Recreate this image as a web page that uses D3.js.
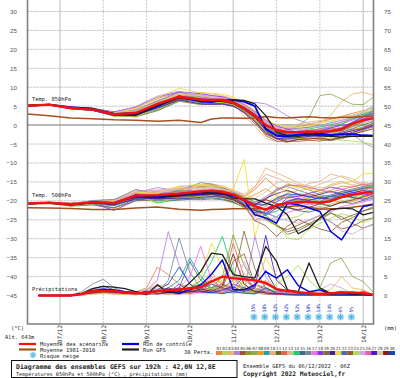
<!DOCTYPE html>
<html>
<head>
<meta charset="utf-8">
<script src="https://cdn.jsdelivr.net/npm/d3@7"></script>
<style>
  body { margin: 0; background: white; overflow: hidden; }
  .mono { font-family: "DejaVu Sans Mono", monospace; fill: #222; }
  .yaxis text { font-family: "Liberation Sans", sans-serif; font-size: 6.2px; fill: #555; }
  .xaxis text { font-family: "DejaVu Sans Mono", monospace; font-size: 6px; fill: #222; }
</style>
</head>
<body>
<div id="chart"></div>
<script>
// 12h steps up to 96h, then 6h steps for temperature members
var hours_temp = [0,12,24,36,48,60,72,84,96,102,108,114,120,126,132,138,144,150,156,162,168,174,180,186,192];
var hours_prec = [6,12,18,24,30,36,42,48,54,60,66,72,78,84,90,96,102,108,114,120,126,132,138,144,150,156,162,168,174,180,186,192];

var day_hours = [18,42,66,90,114,138,162,186];
var day_labels = ["07/12","08/12","09/12","10/12","11/12","12/12","13/12","14/12"];
var day_solid = [true,false,false,true,true,false,false,true];

var left_ticks = [30,25,20,15,10,5,0,-5,-10,-15,-20,-25,-30,-35,-40,-45];
var right_ticks = [75,70,65,60,55,50,45,40,35,30,25,20,15,10,5,0];
var grid_values = [30,25,20,15,10,5,-5,-10,-15,-20,-25,-30,-35,-40];

var snow_hours = [126,132,138,144,150,156,162,168,174,180];
var snow_pct = ["35%","38%","42%","42%","52%","58%","14%","14%","6%","5%"];

var pert_labels = ["01","02","03","04","05","06","07","08","09","10","11","12","13","14","15","16","17","18","19","20","21","22","23","24","25","26","27","28","29","30"];
var pert_colors = ["#e8843c","#a8d860","#f0b468","#b080e0","#a05828","#88a028","#90a850","#f09a18","#20a0a8","#f0a888","#6a6a24","#f06048","#d0c090","#10d068","#406888","#708898","#ec70e8","#8a30f0","#807038","#482098","#f0dc38","#5068b8","#985830","#a8e448","#d0a8e8","#e860a8","#4818c8","#d8c8a0","#882010","#1048c8"];

var mean_850 = [5.1,5.4,4.5,4.1,2.9,3.2,5.6,7.5,6.7, 6.6,6.7,6.0,4.5,2.5,0,-1.3,-1.9, -1.9,-1.7,-1.8,-1.6,-1.1,.3,1.3,1.9];
var clim_850 = [2.9,2.5,1.9,1.7,1.4,1.3,1.0,1.3,.7, 1.6,1.9,1.9,1.8,1.9,2.3,2,1.9, 2.1,2.2,2,1.9,2.1,2.1,2.3,2.4];
var ctrl_850 = [5.1,5.4,4.7,4.3,3,2.8,5,7.6,6.2, 6.1,6.6,6.6,6.2,5.0,-1,-2.8,-3, -2.5,-2.4,-2.3,-2.6,-2.4,-2.4,-2.7,-2.8];
var gfs_850 = [5.2,5.4,4.6,4.4,2.9,2.6,5.2,7.3,6.5, 6.3,6.4,6.7,6.5,5.6,2.5,-1.9,-2.8, -3,-2.5,-2.8,-3,-3.2,-3,-3,-3];

var mean_500 = [-20.7,-20.5,-20.9,-20.4,-20.6,-18.6,-18.5,-18.1,-17.5, -17.3,-17.6,-18.3,-19.8,-21.4,-22.3,-21.1,-20.6, -20.3,-20.3,-20.4,-20.1,-19,-18.4,-17.9,-17.7];
var clim_500 = [-21.8,-21.9,-22,-22.3,-22.3,-21.9,-21.6,-22.2,-22.5, -22.3,-22.2,-22.1,-22.1,-22.1,-22.1,-21.9,-21.5, -21.3,-21.6,-22.2,-22.1,-22,-21.7,-21.3,-20.8];
var ctrl_500 = [-20.8,-20.5,-21,-20.3,-20.5,-18.9,-19,-18.4,-18.2, -18,-18.2,-18.6,-19.9,-23.7,-24.5,-25.9,-20.7, -21,-21.9,-22.8,-28.1,-30.3,-25.9,-21.5,-21];
var gfs_500 = [-20.7,-20.6,-21.1,-20.5,-20.8,-18.4,-19.2,-18.6,-17.9, -17.6,-17.9,-19.3,-19.5,-19.5,-20.6,-21.5,-23.7, -28.7,-27.2,-24.5,-22.3,-21.9,-22.1,-23.7,-23];

var mean_prec = [0,0,0,0,.4,1.2,1.2,1.2, .8,.6,.6,1.2,1.4,1.6,1.9,2.2, 3.7,5,4.6,4.3,4,3.3,1.7,1.2, .9,.6,.4,.6,.8,.8,.6,.2];
var ctrl_prec = [0,0,0,0,.4,1.2,1.6,1.5, 1,.7,.5,1.3,1,.6,1.5,2.8, 5.6,9.4,1.5,1.5,2.8,6.3,4.6,6.8, 2.6,1,1.5,.4,.6,.4,.3,.1];
var gfs_prec = [0,0,0,0,.5,1.8,2.4,2.2, 1.8,1,.3,2.8,.8,1,3.4,6.3, 11.2,10.8,5.5,5,4.6,13,9,1.5, 1,8.6,2,.5,.6,.4,.3,.1];

var members_850 = [
  [5.1,5.5,4.6,4.2,3.4,4.6,7.0,8.6,7.9, 7.4,7.2,6.4,5.0,3.2,.8,-1,-.9, -.4,.2,.9,1.5,2.3,3.1,3.8,4.5],
  [5.2,5.4,4.4,4.1,2.8,3.6,6.1,7.9,7.1, 6.9,7.3,6.3,4.7,2.8,-1,-3.2,-3.9, -3.4,-3,-2.8,-2.1,-1.2,-.3,.6,1.2],
  [5.0,5.5,4.8,4.3,3.2,3.2,5.2,7.4,8.6, 8.2,7.8,6.9,5.6,3.4,1.1,-.5,-1.4, -1,-.4,.4,2.5,6.2,8.2,8.7,7.8],
  [5.1,5.3,4.3,4.0,3.0,4.2,6.4,8.2,6.9, 6.8,6.6,6.1,6.2,6.0,5.6,4.2,2.4, 1.3,.5,-.2,-.8,-1.5,-2.5,-4.5,-6],
  [5.1,5.4,4.5,3.9,2.4,2.3,4.2,6.6,5.7, 5.6,5.8,5.2,3.2,.4,-2.4,-3.7,-3.2, -2.8,-2.4,-2.6,-3,-2.3,-1.4,-.5,.3],
  [5.2,5.5,4.7,4.4,3.1,3.7,5.9,7.8,7.4, 7.1,6.9,6.5,5.1,3.4,.2,-1.9,-2.6, -2.1,-1.7,-.9,-.4,.3,1.4,2.6,3.3],
  [5.1,5.4,4.4,4.2,2.7,2.9,4.7,6.9,6.3, 6.2,6.3,5.4,3.9,1.8,-.8,-2.1,-1.4, -.2,2,7.8,8.2,6.9,5.5,5.4,7.5],
  [5.0,5.3,4.5,4.0,2.9,3.4,5.7,7.6,6.5, 6.3,6.2,5.7,4.1,2.1,-1.5,-2.7,-3.4, -3.9,-3.3,-3.5,-2.9,-2.5,-1.2,-.7,.4],
  [5.1,5.4,4.6,4.1,2.5,2.8,5.0,7.2,6.2, 6.1,6.4,5.8,4.4,2.6,-.4,-1.1,-1.6, -1.9,-1.3,-1.1,-.9,.2,1.7,2.4,3.9],
  [5.2,5.5,4.4,4.3,3.3,4.0,6.6,8.1,7.6, 7.2,7,5.8,2.4,-.3,-3.5,-4.4,-3.6, -3.1,-2.7,-2.9,-2.2,-1.6,-.8,.5,1.4],
  [5.1,5.4,4.5,4.2,2.8,3,4.9,7.1,6.6, 6.4,6.1,5.5,4.3,2.4,-.2,-2.3,-2.7, -2.9,-2.5,-2.1,-1.9,-1.5,-.4,.9,2.1],
  [5.2,5.3,4.8,4.1,2.6,2.5,4.4,6.7,6, 5.8,5.9,5.3,3.8,1.6,-1.8,-3,-2.4, -1.8,-2.2,-1.4,-1.1,-.6,.8,1.6,2.8],
  [5,5.4,4.3,3.8,3,3.5,5.8,7.9,8.1, 7.7,7.5,6.2,4.9,3,.5,-.6,-.2, .3,.8,1.2,1.7,2.2,2.7,3.3,5],
  [5.1,5.5,4.6,4.3,3.1,3.1,3.9,6.4,6.8, 6.5,6.5,5.9,4.4,2.2,-.7,-1.8,-2.2, -1.6,-1,-.5,.1,.7,1.9,3,4.1],
  [5.1,5.4,4.5,4,2.7,2.6,4.6,6.8,5.9, 5.7,5.7,5.1,4,2,-1.2,-2.6,-3.1, -3.4,-2.9,-2.2,-2.5,-1.9,-1,.1,.9],
  [5.2,5.4,4.6,4.2,3.3,3.9,6.3,8.7,7.5, 7,6.8,6.2,4.6,2.5,-.3,-2,-1.2, -.8,-.6,-.1,.6,1.2,2.1,2.9,3.6],
  [5.1,5.5,4.7,4.1,2.9,3.3,5.5,7.5,7.2, 6.7,6.7,6,4.8,3.1,.6,-.9,-.7, -1.3,-1.6,-1.2,-.3,.9,1.3,2,3],
  [5,5.3,4.4,4.4,3.5,4.8,7.4,8.8,8.3, 7.8,7.5,6.7,5.4,3.7,1.3,-.2,-1.1, -2,-1.9,-1.5,-.7,-.1,.4,1.1,1.6],
  [5.1,5.4,4.5,4,2.4,2.2,3.8,6.3,5.4, 5.5,5.6,5,3.5,.9,-2.8,-4.2,-4.5, -3.7,-3.4,-3.8,-4.1,-3.6,-2.6,-1.3,-.4],
  [5.2,5.4,4.6,4.2,3,3.4,5.3,7,6.4, 6.2,6.3,5.7,4.2,2.3,-.9,-2.4,-2.9, -2.6,-2.8,-3,-2.7,-2.2,-1.5,-.9,0],
  [5.1,5.5,4.7,4.4,3.2,4.4,7.3,9.7,8.5, 8.4,8.2,7.4,5.9,3.9,1.5,.1,-.4, -.6,-.2,.5,1.1,1.9,2.4,3.2,4.2],
  [5.1,5.4,4.5,4.1,2.6,3,5.1,7.4,6.6, 6.4,6.5,6.3,4.9,2.7,-1.3,-2.9,-3.5, -2.7,-2.3,-2.5,-1.8,-1.3,.1,1.5,2.6],
  [5,5.3,4.4,3.9,2.8,3.1,4.8,7,6.7, 6.6,6.4,5.6,3.7,1.2,-2.2,-3.4,-4.2, -4.3,-4,-4.2,-3.7,-3.2,-2.2,-.8,.7],
  [5.2,5.4,4.6,4.3,2.3,2.4,4.3,6.5,5.8, 5.9,6,5.4,3.6,1.4,-1.7,-3.3,-3.6, -3.5,-3.2,-3.3,-3.6,-4,-4.2,-4.6,-5.2],
  [5.1,5.5,4.5,4.2,3.2,4.9,7.7,9,7.8, 7.5,7.1,6.6,5.3,3.5,.9,-.8,-1.5, -1.2,-.8,-.2,.3,1.3,2.2,3.4,4.9],
  [5.1,5.4,4.7,4,2.9,3.3,5.4,7.7,7, 6.8,6.8,6.1,4.5,2.4,-.6,-1.6,-2, -2.3,-1.9,-1.6,-1.3,-.9,.6,1.8,2.5],
  [5.2,5.3,4.3,3.9,2.5,2.7,4.5,6.6,5.6, 5.5,5.5,5,3.4,1,-2,-3.5,-3.7, -3.3,-3,-2.7,-3.1,-2.8,-1.9,-1.1,-.1],
  [5,5.5,4.6,4.3,3.3,3.8,6,8.3,7.7, 7.3,7.1,6.4,5,3,.3,-1.4,-.5, 0,.4,.7,1,1.6,2.5,3.6,5.4],
  [5.1,5.4,4.5,4.1,2.7,2.9,4.9,7.2,6.3, 6.2,6.2,5.6,4.2,2,-1.4,-3.6,-4.4, -3.8,-3.7,-3.4,-3.9,-3.3,-2.4,-1.7,-.9],
  [5.1,5.4,4.6,4.2,3,3.3,5.5,7.6,6.9, 6.6,6.6,6.1,4.7,2.9,.1,-1.5,-2.5, -2.5,-2,-1.8,-1.5,-.8,.7,2.2,3.2]
];

var members_500 = [
  [-20.7,-20.4,-20.8,-20.2,-20.3,-18.1,-17.8,-16.8,-16.2, -16.1,-16.6,-17.4,-18.9,-17,-14,-16.5,-17.5, -18.1,-18.6,-17.9,-17.2,-16.1,-16.4,-15.5,-16],
  [-20.8,-20.6,-21.2,-20.6,-20.9,-19,-20.4,-19.1,-18.6, -18.4,-18.9,-19.8,-21.2,-22.6,-24.5,-25.2,-24.7, -24.1,-22.3,-21.5,-20.9,-20,-19.5,-18.6,-17.4],
  [-20.6,-20.5,-20.7,-20.1,-20,-17.6,-17.3,-16.7,-15.9, -15.6,-16.4,-17.6,-18.8,-16.5,-11.3,-12.6,-13.9, -15.2,-16.6,-17.2,-15.7,-14.8,-15.9,-16.8,-15.4],
  [-20.7,-20.6,-21,-19.9,-19.6,-17.9,-16.5,-17.4,-17.1, -16.5,-17.1,-18,-21.4,-25.4,-23.6,-22,-20.4, -20.6,-21.1,-20.2,-18.4,-17.7,-17.2,-18,-19],
  [-20.8,-20.5,-21.1,-20.8,-21.2,-19.4,-19.6,-19.2,-18.9, -18.8,-19.1,-20.2,-21.6,-23.4,-24.8,-26.7,-27.6, -26.4,-25.1,-23.9,-25.6,-27.4,-26.8,-25.2,-24.4],
  [-20.7,-20.4,-20.6,-20.3,-20.2,-18.2,-17.9,-17.5,-16.4, -15.9,-16.8,-17.8,-19,-20.3,-19.6,-17.4,-15.6, -16.2,-17.1,-18.4,-18.9,-17.5,-17.1,-16.4,-15.8],
  [-20.6,-20.7,-21,-20.5,-20.8,-18.8,-18.9,-18.6,-18.3, -17.9,-18.1,-18.7,-20.1,-21.9,-20.8,-19.7,-19, -18.7,-19.5,-20.1,-19.3,-18,-17.5,-16.9,-16.4],
  [-20.8,-20.6,-20.9,-20.4,-20.6,-18.7,-19.2,-18.2,-17.7, -17.6,-17.8,-18.4,-19.5,-18.4,-16.8,-18.6,-19.4, -20,-19.2,-18.8,-19.6,-20.6,-20.2,-19.1,-18.4],
  [-20.7,-20.5,-21.1,-20.6,-21.3,-19.3,-18.9,-17.9,-17.5, -17.1,-17.3,-18.1,-19.7,-22.1,-23.2,-24.3,-22, -20.9,-19.9,-19.4,-18.7,-19.2,-18.8,-17.7,-17],
  [-20.8,-20.4,-20.8,-20.1,-19.9,-17.3,-17.6,-16.2,-15.8, -15.5,-16.1,-17.1,-18.3,-16.2,-13,-13.9,-15.2, -16.7,-15.4,-14.9,-12.9,-13.7,-14.8,-16.1,-15.3],
  [-20.7,-20.6,-21.3,-20.7,-21,-19.1,-19.4,-19,-18.7, -18.5,-18.7,-19.5,-21,-23,-24.9,-26.4,-28.2, -27.3,-26,-24.6,-23.1,-24.9,-23.8,-22.7,-21.9],
  [-20.6,-20.5,-20.7,-20.4,-20.5,-18.4,-18.2,-17.6,-17.2, -17.1,-17.3,-18,-19.3,-20.9,-21.4,-19.6,-18.4, -19,-18.2,-19.3,-20.1,-18.6,-18.1,-17.2,-16.6],
  [-20.8,-20.7,-21,-20.6,-20.7,-18.6,-18.1,-16.9,-16.6, -16.3,-16.7,-18.2,-20.2,-22.8,-21.7,-19.3,-17.9, -17.3,-16.8,-15.6,-14.5,-13.4,-14.2,-15.7,-16.7],
  [-20.7,-20.5,-20.9,-20.3,-20.4,-18.3,-20.6,-19.6,-17.3, -17.4,-17.8,-18.8,-20.5,-21.9,-23.5,-22.8,-20.3, -19.6,-20.3,-21,-19.8,-18.7,-19.2,-18.1,-17.6],
  [-20.7,-20.6,-21.2,-20.9,-21.8,-19.6,-20,-19.8,-19.4, -19.2,-19.5,-20.3,-21.8,-23.1,-22.7,-21.3,-21.8, -22.6,-23,-22.1,-21.4,-20.3,-20.7,-19.9,-19.2],
  [-20.8,-20.4,-20.7,-20,-19.7,-17,-18.3,-17.3,-15.2, -15.6,-16.5,-17.7,-19.4,-21.3,-19.8,-16.8,-16.2, -17.2,-18.1,-19,-18.5,-17.6,-16.9,-16.2,-15.6],
  [-20.7,-20.5,-20.8,-20.2,-20.1,-18.2,-17.6,-18.3,-18, -17.7,-18.2,-19,-20.7,-24.1,-22.4,-24.8,-23.1, -22.3,-20.6,-21.7,-22.9,-21.5,-21,-20.3,-19.5],
  [-20.6,-20.6,-21.1,-20.7,-22.5,-19.9,-19.2,-18.5,-18.2, -18,-18.4,-19.2,-20.8,-22.4,-23.9,-21.9,-19.2, -18.8,-18,-17.3,-16.4,-16.9,-17.8,-18.5,-18],
  [-20.8,-20.6,-21.4,-21.1,-21.9,-20,-19.7,-19.3,-19.7, -19.5,-19.7,-20.5,-21.5,-22.4,-23.8,-26.2,-28.9, -27.9,-26.4,-25,-23.3,-24.2,-26,-27.2,-26.1],
  [-20.7,-20.4,-20.9,-20.5,-20.3,-18.5,-18.6,-18,-17.6, -17.4,-17.6,-18.6,-20,-21,-19.3,-18.1,-17.2, -18.3,-19,-18.3,-17.5,-18.2,-19.1,-19.6,-18.7],
  [-20.7,-20.5,-20.8,-20.2,-20,-17.8,-17.9,-16.1,-15.7, -15.9,-16.3,-17,-9.1,-29.4,-20.7,-18.6,-16.8, -16,-16.9,-17.4,-15.9,-15.4,-14.9,-12.9,-12.7],
  [-20.8,-20.6,-21,-20.4,-20.6,-18.8,-19.5,-18.9,-18.4, -18.2,-18.6,-19.3,-20.6,-21.6,-22.2,-20.2,-18.9, -19.5,-20,-20.8,-20.2,-19.1,-18.5,-17.8,-17.3],
  [-20.7,-20.6,-21.1,-20.5,-21,-19.2,-19.1,-18.7,-18.1, -18.1,-18.3,-19.1,-21.1,-25.2,-26.6,-29.4,-26.7, -24.9,-26.2,-27.4,-28.2,-25.7,-24.5,-22.7,-21.5],
  [-20.9,-20.7,-21.2,-20.8,-20.9,-18.9,-20.3,-19.4,-18.9, -18.7,-19.1,-20,-21.9,-23.4,-25.1,-26.6,-29.8, -30.3,-27.5,-26,-24.6,-23.4,-24.2,-25.8,-24.5],
  [-20.7,-20.4,-20.7,-20.3,-20.2,-17.7,-17.1,-17,-16.6, -16.9,-17.2,-17.9,-20.4,-24.5,-25.2,-24.4,-25.3, -25.9,-25.1,-23.7,-25.4,-28,-28.8,-27.2,-26.3],
  [-20.7,-20.5,-20.9,-20.4,-20.5,-18.6,-18.4,-17.8,-17.4, -17.2,-17.5,-18.5,-19.6,-20.5,-18.9,-17.2,-16, -15.9,-16.4,-17.1,-17.8,-17,-16.3,-15.7,-15.2],
  [-20.8,-20.6,-21,-20.6,-21.1,-19.5,-19.3,-19.5,-19.1, -18.9,-19,-19.8,-21.2,-22.6,-23.3,-21.4,-20.1, -19.4,-19.8,-19.1,-19.6,-18.4,-17.9,-17.3,-17.7],
  [-20.6,-20.5,-20.8,-20.3,-20.3,-18.3,-18,-16.5,-16.9, -16.7,-17,-17.5,-18.5,-19.4,-17.6,-15.2,-14.8, -15.7,-16,-16.6,-16.1,-15.2,-15.8,-15.1,-15.9],
  [-20.7,-20.6,-21,-20.5,-20.7,-18.9,-19,-18.8,-18.5, -18.3,-18.8,-19.6,-21.3,-20.9,-19.7,-20.7,-21.7, -22.4,-21.8,-20.7,-21.4,-20.4,-19.8,-18.9,-18.1],
  [-20.7,-20.5,-20.9,-20.4,-20.4,-18.5,-18.7,-18.3,-17.9, -17.8,-18,-18.9,-19.7,-20.8,-21,-19.3,-18.2, -18.4,-18.9,-19.5,-18.9,-18.1,-17.4,-16.7,-16.2]
];

var members_prec = [
  [0,0,0,0,.2,.8,1,.6, .8,1,2,7.5,5.5,3,2,1.5, 3,2,1,2,1.5,1,.6,.4, .3,.2,.2,.3,.2,.2,.1,0],
  [0,0,0,0,.3,1,1.5,1, .6,.4,.3,.5,1,2,3,1, 2,4,6,3,1,2,.8,.5, .3,.2,.3,.5,.3,.2,.1,0],
  [0,0,0,.1,.4,.6,.8,.5, .3,.6,1.5,2.5,3,1.5,1,4, 6,3,2,1,3,4,1,.5, .6,.8,1,1.5,5,2,1.5,.1],
  [0,0,0,0,.5,1.5,2,1.2, 1,.8,1.5,4,16.9,8,3,2, 1,.8,1.5,1,15.6,5,1,.8, .5,.4,.6,.5,.6,.3,.2,0],
  [0,0,0,0,.2,.5,.8,.6, .4,.3,.6,1,.8,1.2,2,3, 4,2,9,11,3,1.5,.6,.3, .2,.2,.1,.2,.1,.1,0,0],
  [0,0,0,0,.3,.9,1.2,.8, .5,.8,1,.6,1.5,.8,2,3, 2,5,16,8,3,2,1,.5, .3,.2,.2,.3,.2,.2,.1,0],
  [0,0,0,.1,.2,.6,1,.9, .6,.5,.2,.8,.4,1,1.5,.8, 1.2,1,3,1.5,1,1.5,.8,.6, .5,.4,2,8.6,9.9,5,3.7,.6],
  [0,0,0,0,.1,.4,.8,.5, .3,.4,.8,1,2,1,.6,2, 5,3,1,4,2,1,.5,.3, .2,.3,.2,.2,.3,.1,.1,0],
  [0,0,0,0,.3,1.2,1.8,1, .6,.3,.5,1,2,4,9.9,5, 2,1,.8,2,1,.6,.3,.2, .1,.1,.2,.2,.1,.1,0,0],
  [0,0,0,.1,.5,.7,.6,.4, .6,1,1.4,3,1.2,.8,1,2.5, 3.5,1,2,1,.8,4,2,.5, .4,.3,.5,.4,.3,.6,.3,0],
  [0,0,0,0,.2,.6,.9,.7, .4,.2,.4,.9,.6,.5,.8,1.2, 2,3,1.5,.9,.6,.4,.3,.3, .2,.2,.1,.1,.1,.1,0,0],
  [0,0,0,0,.4,1,1.4,1.1, .7,1,.8,1.2,.9,1.5,1.2,2, 1.5,3,13.8,5,2,1,.7,.4, .3,.3,.4,.2,.2,.4,.9,0],
  [0,0,0,0,.1,.5,.6,.4, .3,.5,1,1.8,1,.7,1.5,1, .8,2,3,6,2,1,.6,.3, .2,.1,.2,.2,.4,.8,.3,0],
  [0,0,0,0,.3,.7,1.1,.8, .5,.4,.7,1.1,1.6,1,2,4, 9,15.6,6,2,1,.6,.4,.3, .2,.1,.1,.1,.1,.1,0,0],
  [0,0,0,0,.6,1.8,2.5,1.5, 1,.7,1,.6,1.4,2,9,4, 1.5,1,.7,1.5,.8,.5,.3,.2, .1,.1,.1,.2,.1,.1,0,0],
  [0,0,0,.1,1,3,4.3,2, 1,.5,.3,.5,4,15.2,6,2, 1,.6,1,.7,1,.8,.4,.2, .2,.1,.1,.1,.1,0,0,0],
  [0,0,0,0,.2,.9,1.3,1, .7,.6,1.2,.8,1,2,5,13, 4,2,1,.8,3,1.4,.6,.4, .3,.2,.3,.4,.3,.2,.1,0],
  [0,0,0,0,.4,.8,1.6,1.3, .9,.4,.6,1.3,.7,3,1,.9, 1.2,.8,2,5,1.5,1,.8,.7, .4,.3,.4,.5,1.2,.3,.2,0],
  [0,0,0,0,.2,.7,1,.7, .5,.3,.4,.7,1,.6,.9,1.5, 1,2,4,17,7,2,.6,.3, .2,.2,.1,.1,.1,.1,.1,0],
  [0,0,0,0,.3,1.1,1.5,1.4, .9,.6,.2,1,2,1.2,.6,1, .8,1.2,.9,1.2,2.5,6.6,1.5,.6, .3,.3,.4,.3,.2,.1,.1,0],
  [0,0,0,0,.1,.4,.7,.6, .3,.2,.8,.9,.5,1.2,2,5, 13.8,7,4,3,1.5,10,5,1, .5,.3,.2,.2,.2,.2,.1,0],
  [0,0,0,0,.3,.8,1.2,1, .8,1,.5,.3,1,.7,1.5,2, 3,2,1.2,.9,.7,3,1.5,.5, .4,.5,.3,.3,.3,.2,.1,0],
  [0,0,0,0,.2,.6,.8,.7, .4,.6,.9,1.1,.8,.4,1.2,3, 1,.9,3,2,1.2,.8,.5,.4, .3,.3,.2,.2,.1,.2,1.2,0],
  [0,0,0,.1,.3,.7,.9,.6, .4,.3,.5,.7,.3,.8,.9,1.1, 2,1,.6,.8,1,2,3,5, 8,4,1.5,.8,.4,.3,.2,0],
  [0,0,0,0,.2,1,1.3,.9, .6,.5,1.6,2,1,1.5,2,1.3, 1,1.5,.8,9,3,1,.8,.6, .3,.4,1.5,3,2,.5,.2,0],
  [0,0,0,0,.2,.5,.7,.5, .3,.4,.3,.6,.4,.3,.7,.8, 1.5,.7,5,1.2,.6,.4,.3,.2, .2,.1,.1,.1,.1,.1,0,0],
  [0,0,0,0,.4,.9,1.1,.9, .7,.5,.9,.4,.8,2,1,1.2, .7,1.5,2.3,1,2,15.9,4,1.5, .6,.4,.3,.2,.1,.1,.1,0],
  [0,0,0,0,.1,.3,.5,.4, .2,.3,.5,.4,.2,.5,.3,.6, .5,1,.7,1.3,.6,.5,2,.4, .3,.2,.2,.3,.3,.4,.2,0],
  [0,0,0,0,.3,.7,1,.8, .6,.4,1.2,.5,.9,.6,1,1.7, 1.1,2.5,11,3,1,.7,.4,.3, .2,.1,.2,.1,.1,.1,.1,0],
  [0,0,0,0,.4,1.3,1.7,1.2, .7,.5,.9,1.5,3,7.5,3,1, .8,.5,1,.6,.4,2,.6,.4, .3,.2,.2,.2,.2,.1,.1,0]
];

var svg = d3.select("#chart").append("svg")
  .attr("width", 400)
  .attr("height", 378)
  .style("display", "block")
  .style("background", "white");

var xscale = d3.scaleLinear().domain([0, 192]).range([27.5, 374]);
var yscale = d3.scaleLinear().domain([-45, 30]).range([295.5, 11.5]);
var yscale_mm = d3.scaleLinear().domain([0, 75]).range([295.5, 11.5]);

//grid
svg.append("g").selectAll("line").data(grid_values).enter().append("line")
  .attr("x1", 27.5).attr("x2", 373.5)
  .attr("y1", d => yscale(d)).attr("y2", d => yscale(d))
  .attr("stroke", "#bdbdbd").attr("stroke-width", 1).attr("stroke-dasharray", "2,1");

svg.append("g").selectAll("line").data(day_hours).enter().append("line")
  .attr("x1", d => xscale(d)).attr("x2", d => xscale(d))
  .attr("y1", 0).attr("y2", 324)
  .attr("stroke", (d, i) => day_solid[i] ? "#c8c8c8" : "#d4d4d4")
  .attr("stroke-width", 1.2)
  .attr("stroke-dasharray", (d, i) => day_solid[i] ? null : "2,1");

svg.append("line")
  .attr("x1", 27.5).attr("x2", 373.5)
  .attr("y1", yscale(0)).attr("y2", yscale(0))
  .attr("stroke", "#a0a0a0").attr("stroke-width", 1.5);

function draw_line(hours, values, color, w) {
  return svg.append("path")
    .datum(values)
    .attr("fill", "none")
    .attr("stroke", color)
    .attr("stroke-width", w)
    .attr("stroke-linejoin", "round")
    .attr("d", d3.line()
      .x((d, i) => xscale(hours[i]))
      .y(d => yscale(d)));
}

// members: temperature lines on the left scale, rain on the right one
function draw_prec(values, color, w) {
  svg.append("path")
    .datum(values)
    .attr("fill", "none")
    .attr("stroke", color)
    .attr("stroke-width", w)
    .attr("stroke-linejoin", "round")
    .attr("d", d3.line()
      .x((d, i) => xscale(hours_prec[i]))
      .y(d => yscale_mm(d)));
}

members_850.forEach((m, i) => draw_line(hours_temp, m, pert_colors[i], 0.85));
members_500.forEach((m, i) => draw_line(hours_temp, m, pert_colors[i], 0.85));
members_prec.forEach((m, i) => draw_prec(m, pert_colors[i], 0.85));

//climatology
draw_line(hours_temp, clim_850, "#a8501c", 1.5);
draw_line(hours_temp, clim_500, "#a8501c", 1.5);

//control
draw_line(hours_temp, ctrl_850, "#0000e0", 1.9);
draw_line(hours_temp, ctrl_500, "#0000e0", 1.5);
draw_prec(ctrl_prec, "#0000e0", 1.4);

//gfs
draw_line(hours_temp, gfs_850, "#202020", 1.3);
draw_line(hours_temp, gfs_500, "#202020", 1.3);
draw_prec(gfs_prec, "#202020", 1.3);

//mean
draw_line(hours_temp, mean_850, "#f81010", 2.4);
draw_line(hours_temp, mean_500, "#f81010", 2.4);
draw_prec(mean_prec, "#f81010", 2.4);

//snow risk
var snow = svg.append("g").selectAll("g").data(snow_hours).enter().append("g")
  .attr("transform", d => "translate(" + (xscale(d) - 1) + ",317)");
snow.append("circle").attr("r", 3.6).attr("fill", "#a4e2f8");
[0, 60, 120].forEach(function (a) {
  snow.append("line")
    .attr("y1", -3).attr("y2", 3)
    .attr("transform", "rotate(" + a + ")")
    .attr("stroke", "#3f9fe0").attr("stroke-width", 0.7);
});
snow.append("text")
  .attr("transform", "translate(1.6,-4.5)rotate(-90)")
  .attr("font-family", "DejaVu Sans Mono")
  .attr("font-size", 4.8)
  .attr("fill", "#2030c0")
  .text((d, i) => snow_pct[i]);

//axes
var left_axis = svg.append("g").attr("class", "yaxis")
  .attr("transform", "translate(27.5,0)")
  .call(d3.axisLeft(yscale).tickValues(left_ticks).tickSize(0).tickPadding(10.5));
left_axis.select(".domain").remove();

var right_axis = svg.append("g").attr("class", "yaxis")
  .attr("transform", "translate(373.5,0)")
  .call(d3.axisRight(yscale_mm).tickValues(right_ticks).tickSize(0).tickPadding(10.5));
right_axis.select(".domain").remove();

var x_axis = svg.append("g").attr("class", "xaxis")
  .attr("transform", "translate(0,324)")
  .call(d3.axisBottom(xscale).tickValues(day_hours).tickSize(0)
    .tickFormat((d, i) => day_labels[i]));
x_axis.select(".domain").remove();
x_axis.selectAll("text")
  .attr("transform", "translate(2,1)rotate(-90)")
  .attr("y", 0).attr("dy", 0)
  .style("text-anchor", "end");

svg.append("path")
  .attr("d", "M27.5,0V324H373.5V0")
  .attr("fill", "none").attr("stroke", "#808080").attr("stroke-width", 1.6);

function label(x, y, s, size, bold) {
  return svg.append("text").attr("class", "mono")
    .attr("x", x).attr("y", y)
    .attr("font-size", size)
    .attr("font-weight", bold ? "bold" : "normal")
    .text(s);
}

label(32, 100.5, "Temp. 850hPa", 5.4);
label(32, 197, "Temp. 500hPa", 5.4);
label(32, 291, "Précipitations", 5.4);
label(11, 330, "(°C)", 5.4);
label(5, 339, "Alt. 643m", 5.4);
label(384, 330, "(mm)", 5.4);

//legend
function legend_line(x, y, color, w) {
  svg.append("line").attr("x1", x).attr("x2", x + 17)
    .attr("y1", y).attr("y2", y)
    .attr("stroke", color).attr("stroke-width", w);
}
legend_line(19, 344, "#f81010", 2.2);
legend_line(19, 349.5, "#a8501c", 2.2);
legend_line(122, 344, "#0000e0", 2.2);
legend_line(122, 349.5, "#202020", 2.2);
label(40, 346, "Moyenne des scénarios", 5.4);
label(40, 351.5, "Moyenne 1981-2010", 5.4);
label(40, 358, "Risque neige", 5.4);
label(143, 346, "Run de contrôle", 5.4);
label(143, 351.5, "Run GFS", 5.4);

var legend_snow = svg.append("g").attr("transform", "translate(33,355)");
legend_snow.append("circle").attr("r", 3).attr("fill", "#a4e2f8");
[0, 60, 120].forEach(function (a) {
  legend_snow.append("line").attr("y1", -3).attr("y2", 3)
    .attr("transform", "rotate(" + a + ")")
    .attr("stroke", "#58b4ec").attr("stroke-width", 0.8);
});

label(184, 354, "30 Perts.", 5.4);

var xband = d3.scaleBand().domain(pert_labels).range([216, 395]);
svg.append("g").selectAll("rect").data(pert_labels).enter().append("rect")
  .attr("x", d => xband(d)).attr("y", 351)
  .attr("width", xband.bandwidth()).attr("height", 4)
  .attr("fill", (d, i) => pert_colors[i]);
svg.append("g").selectAll("text").data(pert_labels).enter().append("text")
  .attr("x", d => xband(d) + xband.bandwidth() / 2).attr("y", 349.5)
  .attr("text-anchor", "middle")
  .attr("font-family", "DejaVu Sans Mono").attr("font-size", 4.3).attr("fill", "#333")
  .text(d => d);

//title box
svg.append("rect")
  .attr("x", 11.5).attr("y", 360.5).attr("width", 225.5).attr("height", 17)
  .attr("fill", "white").attr("stroke", "#111").attr("stroke-width", 1);
label(16, 368.5, "Diagramme des ensembles GEFS sur 192h : 42,0N 12,8E", 6.5, true);
label(16, 375.5, "Températures 850hPa et 500hPa (°C) , précipitations (mm)", 5.1);
label(243, 367.5, "Ensemble GEFS du 06/12/2022 - 06Z", 5.4);
label(243, 376, "Copyright 2022 Meteociel,fr", 6.3, true);
</script>
</body>
</html>
